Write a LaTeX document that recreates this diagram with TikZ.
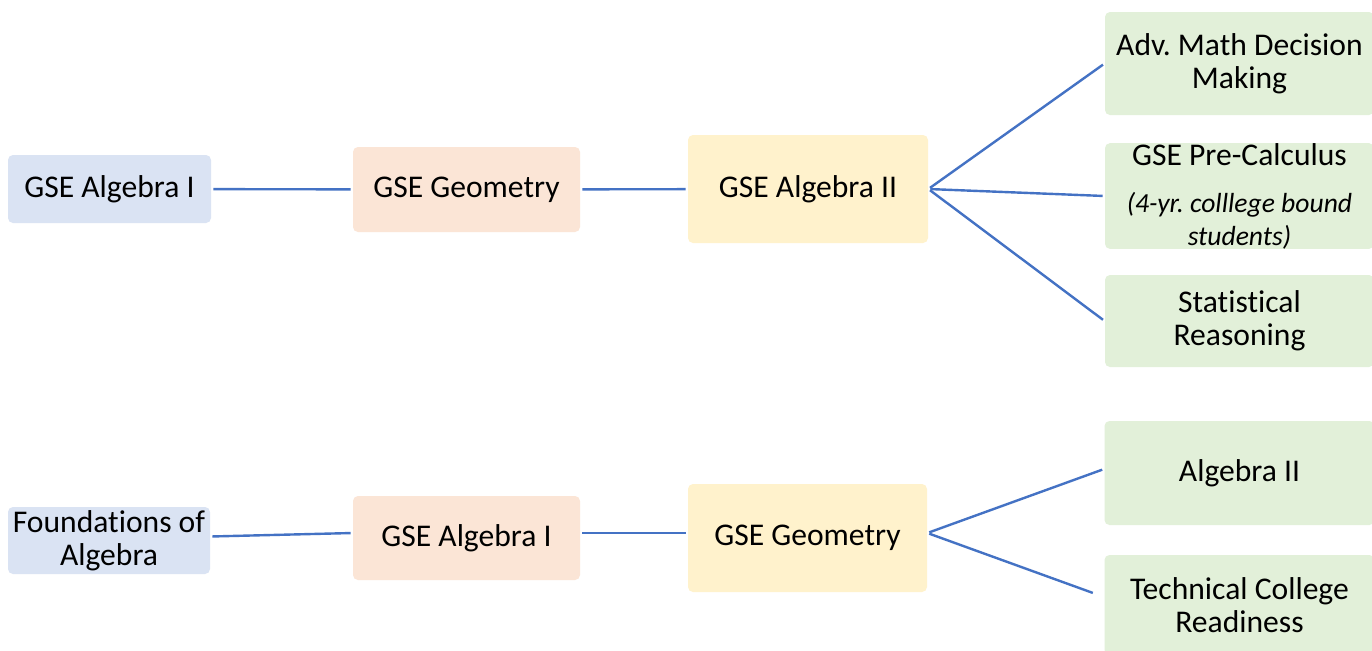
\documentclass[tikz,border=0pt]{standalone}
\usepackage{fontspec}
\setmainfont{Carlito}[Ligatures=NoCommon]
\usepackage{tikz}
\definecolor{boxblue}{HTML}{DAE3F3}
\definecolor{boxorange}{HTML}{FBE5D6}
\definecolor{boxyellow}{HTML}{FFF2CC}
\definecolor{boxgreen}{HTML}{E2F0D9}
\definecolor{linkblue}{HTML}{4472C4}
\def\boxfont{\frenchspacing\fontsize{15.8}{16.5}\selectfont}
\newcommand{\noteital}[1]{{\itshape\fontsize{13.8}{15.5}\selectfont #1}}
\tikzset{
  course/.style={rounded corners=2.5pt,align=center,inner sep=0pt,font=\boxfont},
  link/.style={draw=linkblue,line width=1.2pt,shorten <=1pt,shorten >=1pt}
}

\begin{document}
\begin{tikzpicture}[x=0.5pt,y=-0.5pt]
% the page, clipped at the right and bottom edges
\clip (0,0) rectangle (1372,650);
\fill[white] (0,0) rectangle (1372,650);
% upper pathway
\node[course,fill=boxblue,minimum width=101.5pt,minimum height=34pt]
  (algA) at (109.5,189) {GSE Algebra I};
\node[course,fill=boxorange,minimum width=113.5pt,minimum height=42.5pt]
  (geoA) at (466.5,189.5) {GSE Geometry};
\node[course,fill=boxyellow,minimum width=120pt,minimum height=54pt]
  (algIIA) at (808,189) {GSE Algebra II};
\node[course,fill=boxgreen,minimum width=134.5pt,minimum height=51.5pt]
  (amdm) at (1239.5,63.5) {Adv. Math Decision\\Making};
\node[course,fill=boxgreen,minimum width=134.5pt,minimum height=50pt]
  (precalc) at (1239.5,196)
  {GSE Pre-Calculus\\[7pt]\noteital{(4-yr. colllege bound}\\\noteital{students)}};
\node[course,fill=boxgreen,minimum width=134.5pt,minimum height=46pt]
  (stat) at (1239.5,321) {Statistical\\Reasoning};
% lower pathway
\node[course,fill=boxblue,minimum width=101pt,minimum height=33.5pt]
  (found) at (109,540.5) {Foundations of\\Algebra};
\node[course,fill=boxorange,minimum width=113.5pt,minimum height=42pt]
  (algB) at (466.5,538) {GSE Algebra I};
\node[course,fill=boxyellow,minimum width=119.5pt,minimum height=54pt]
  (geoB) at (807.5,538) {GSE Geometry};
\node[course,fill=boxgreen,minimum width=135pt,minimum height=52pt]
  (algII) at (1239.5,473) {Algebra II};
\node[course,fill=boxgreen,minimum width=135pt,minimum height=50pt]
  (tech) at (1239.5,605) {Technical College\\Readiness};
% connectors
\draw[link] (algA) -- (geoA);
\draw[link] (geoA) -- (algIIA);
\draw[link] (algIIA.east) -- (amdm.west);
\draw[link] (algIIA.east) -- (precalc.west);
\draw[link] (algIIA.east) -- (stat.west);
\draw[link] ([yshift=2pt]found.east) -- ([yshift=2.5pt]algB.west);
\draw[link] ([yshift=2.5pt]algB.east) -- ([yshift=2.5pt]geoB.west);
\draw[link] ([yshift=2.5pt]geoB.east) -- ([yshift=2pt]algII.west);
\draw[link,shorten >=6pt] ([yshift=2.5pt]geoB.east) -- ([yshift=4pt]tech.west);
\end{tikzpicture}
\end{document}
